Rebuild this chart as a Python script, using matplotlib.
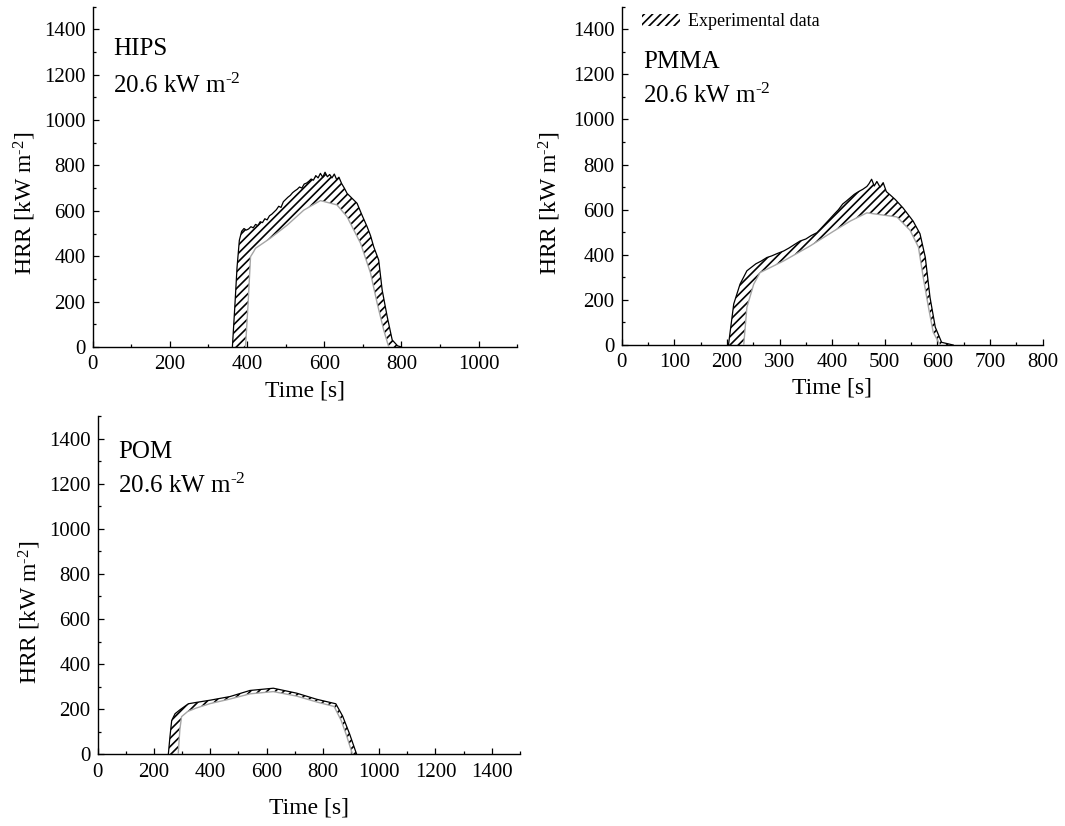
import matplotlib
matplotlib.use("Agg")
import matplotlib.pyplot as plt
from matplotlib.patches import Patch
from matplotlib.ticker import MultipleLocator

plt.rcParams['font.family'] = ['Liberation Serif', 'DejaVu Serif']
plt.rcParams['mathtext.fontset'] = 'custom'
plt.rcParams['mathtext.rm'] = 'Liberation Serif'
plt.rcParams['mathtext.it'] = 'Liberation Serif:italic'
plt.rcParams['hatch.linewidth'] = 1.2

# ---------------- data ----------------
# HIPS
hips_t_upper = [362, 368, 374, 380, 386, 392, 398, 404, 410, 416, 422, 428, 434, 440, 446,
                452, 458, 464, 470, 476, 482, 488, 494, 500, 506, 512, 518, 524, 530, 536,
                542, 548, 554, 560, 566, 572, 578, 584, 590, 596, 602, 608, 614, 620, 626,
                632, 638, 645, 652, 659, 672, 685, 698, 711, 720, 728, 741, 750, 763, 776,
                790, 800]
hips_upper = [0, 170, 350, 470, 510, 522, 515, 520, 530, 525, 540, 535, 552, 548, 565,
              560, 578, 585, 595, 605, 620, 615, 640, 650, 660, 668, 680, 688, 695, 705,
              700, 718, 722, 730, 740, 735, 755, 745, 765, 748, 770, 750, 760, 745, 762,
              738, 748, 720, 700, 677, 655, 633, 580, 530, 490, 442, 383, 251, 134, 31,
              5, 0]
hips_t_lower = [396, 403, 409, 417, 422, 460, 504, 547, 590, 633, 659, 694, 720, 737, 754, 767]
hips_lower = [0, 200, 398, 420, 435, 479, 537, 603, 645, 626, 574, 457, 325, 193, 75, 0]

# PMMA
pmma_t_upper = [203, 213, 225, 238, 255, 265, 276, 285, 295, 308, 318, 328, 339, 350, 360,
                371, 380, 390, 403, 412, 420, 428, 434, 442, 450, 458, 466, 470, 475, 480,
                485, 491, 497, 503, 510, 520, 535, 554, 567, 577, 586, 596, 608, 630]
pmma_upper = [0, 182, 270, 329, 360, 372, 388, 395, 405, 417, 430, 445, 461, 470, 485,
              498, 520, 545, 578, 600, 625, 640, 652, 668, 680, 690, 703, 715, 735, 705,
              725, 700, 720, 680, 666, 645, 607, 549, 493, 389, 211, 79, 12, 0]
pmma_t_lower = [232, 238, 251, 263, 308, 358, 403, 434, 466, 491, 523, 548, 564, 573, 583, 592, 605]
pmma_lower = [0, 167, 270, 321, 373, 439, 505, 549, 586, 578, 568, 509, 434, 301, 168, 57, 0]

# POM
pom_t_upper = [251, 257, 263, 275, 292, 322, 350, 400, 470, 541, 624, 707, 778, 846, 870, 895, 920]
pom_upper = [0, 80, 150, 180, 197, 224, 230, 240, 256, 283, 293, 271, 244, 224, 170, 90, 0]
pom_t_lower = [286, 292, 298, 320, 350, 400, 470, 541, 624, 707, 778, 840, 865, 885, 905]
pom_lower = [0, 110, 167, 190, 205, 225, 245, 268, 278, 258, 232, 212, 150, 80, 0]

materials = ['HIPS', 'PMMA', 'POM']
flux_label = r'20.6 kW m$^{\text{-2}}$'
legend_label = 'Experimental data'
x_label = 'Time [s]'
y_label = r'HRR [kW m$^{\text{-2}}$]'

hips_xticks = [0, 200, 400, 600, 800, 1000]
pmma_xticks = [0, 100, 200, 300, 400, 500, 600, 700, 800]
pom_xticks = [0, 200, 400, 600, 800, 1000, 1200, 1400]
y_ticks = [0, 200, 400, 600, 800, 1000, 1200, 1400]

# ---------------- figure ----------------
fig = plt.figure(figsize=(10.65, 8.26), dpi=100)

ax1 = fig.add_axes([0.0870, 0.5799, 0.3987, 0.4122])
ax2 = fig.add_axes([0.5837, 0.5823, 0.3953, 0.4096])
ax3 = fig.add_axes([0.0917, 0.0868, 0.3965, 0.4096])

panels = [
    (ax1, hips_t_upper, hips_upper, hips_t_lower, hips_lower, hips_xticks, (0, 1100), 100,
     materials[0], (0.0485, 0.858), (0.0485, 0.745), (-0.159, 0.423), -0.128),
    (ax2, pmma_t_upper, pmma_upper, pmma_t_lower, pmma_lower, pmma_xticks, (0, 800), 50,
     materials[1], (0.051, 0.818), (0.051, 0.714), (-0.170, 0.42), -0.128),
    (ax3, pom_t_upper, pom_upper, pom_t_lower, pom_lower, pom_xticks, (0, 1500), 100,
     materials[2], (0.049, 0.875), (0.049, 0.771), (-0.160, 0.42), -0.158),
]

for (ax, tu, u, tl, l, xticks, xlim, xmin, name, pos_name, pos_flux,
     ylab_pos, xlab_y) in panels:
    poly_x = list(tu) + list(tl)[::-1]
    poly_y = list(u) + list(l)[::-1]
    ax.fill(poly_x, poly_y, facecolor='none', edgecolor='black', linewidth=0,
            hatch='////', zorder=2)
    ax.plot(tu, u, color='black', lw=0.9, zorder=3)
    ax.plot(tl, l, color='0.65', lw=1.0, zorder=3)

    ax.set_xlim(*xlim)
    ax.set_ylim(0, 1500)
    ax.set_xticks(xticks)
    ax.set_yticks(y_ticks)
    ax.xaxis.set_minor_locator(MultipleLocator(xmin))
    ax.yaxis.set_minor_locator(MultipleLocator(100))
    for s in ['top', 'right']:
        ax.spines[s].set_visible(False)
    for s in ['left', 'bottom']:
        ax.spines[s].set_linewidth(1.0)
    ax.tick_params(which='major', direction='in', length=4.5, width=0.9,
                   labelsize=15, pad=5)
    ax.tick_params(which='minor', direction='in', length=2.5, width=0.9)
    ax.tick_params(axis='x', which='major', pad=6)

    ax.set_xlabel(x_label, fontsize=17, va='center', ha='center')
    ax.xaxis.set_label_coords(0.5, xlab_y)
    ax.set_ylabel(y_label, fontsize=17, va='center', ha='center')
    ax.yaxis.set_label_coords(*ylab_pos)

    ax.text(pos_name[0], pos_name[1], name, transform=ax.transAxes, fontsize=18,
            va='baseline', ha='left')
    ax.text(pos_flux[0], pos_flux[1], flux_label, transform=ax.transAxes, fontsize=18,
            va='baseline', ha='left')

handle = Patch(facecolor='none', edgecolor='black', hatch='////', linewidth=0)
ax2.legend([handle], [legend_label], loc='center left', bbox_to_anchor=(0.0475, 0.955),
           frameon=False, fontsize=13, handlelength=2.1, handleheight=0.6,
           handletextpad=0.45, borderpad=0, borderaxespad=0)

fig.savefig('out.png', dpi=100)
